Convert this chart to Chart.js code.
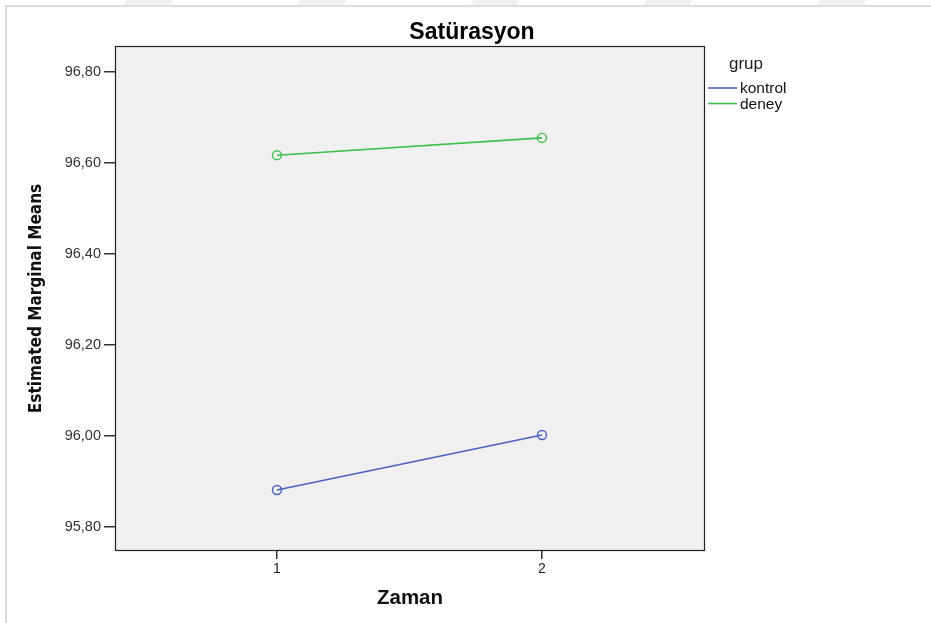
<!DOCTYPE html>
<html lang="tr">
<head>
<meta charset="UTF-8">
<title>Satürasyon</title>
<script src="https://cdn.jsdelivr.net/npm/chart.js"></script>
<style>
  body { margin: 0; background: #fff; }
  #wrap { position: relative; width: 931px; height: 623px; overflow: hidden; }
  #band { position: absolute; left: 0; top: 0; width: 931px; height: 5px;
          background: repeating-linear-gradient(120deg, #fff 0 110px, #f0f0f0 110px 150px); }
  #frame { position: absolute; left: 5px; top: 5px; right: -2px; bottom: -2px;
           border-left: 2px solid #dcdcdc; border-top: 2px solid #dcdcdc; }
  canvas { position: absolute; left: 0; top: 0; }
</style>
</head>
<body>
<div id="wrap">
  <div id="band"></div>
  <div id="frame"></div>
  <canvas id="emmChart" width="931" height="623"></canvas>
</div>
<script>
// Estimated marginal means of saturation by time, per group
const zamanLevels = [1, 2];
const groups = ['kontrol', 'deney'];
const kontrolMeans = [95.881, 96.002];
const deneyMeans = [96.617, 96.655];
const yTickValues = [95.8, 96.0, 96.2, 96.4, 96.6, 96.8];
const xTickValues = [1, 2];

const groupColors = ['#4b61c0', '#3dbf4d'];
const BASE_FONT = '"Liberation Sans", Arial, sans-serif';

function toPoints(means) {
    return zamanLevels.map((z, i) => ({ x: z, y: means[i] }));
}

function makeDataset(label, means, color) {
    return {
        label: label,
        data: toPoints(means),
        borderColor: color,
        backgroundColor: 'rgba(0,0,0,0)',
        borderWidth: 1.6,
        pointRadius: 4.5,
        pointBorderWidth: 1.4,
        pointBackgroundColor: 'rgba(0,0,0,0)',
        pointBorderColor: color,
        tension: 0
    };
}

// grey plot panel with dark frame
const panelPlugin = {
    id: 'panel',
    beforeDraw(chart) {
        const a = chart.chartArea, ctx = chart.ctx;
        ctx.save();
        ctx.fillStyle = '#f0f0f0';
        ctx.fillRect(a.left, a.top, a.right - a.left, a.bottom - a.top);
        ctx.restore();
    },
    afterDraw(chart) {
        const a = chart.chartArea, ctx = chart.ctx;
        ctx.save();
        ctx.strokeStyle = '#222';
        ctx.lineWidth = 1.2;
        ctx.strokeRect(a.left + 0.5, a.top + 0.5, a.right - a.left - 1, a.bottom - a.top - 1);
        ctx.restore();
    }
};

// title above the panel and the "grup" legend on the right
const textPlugin = {
    id: 'texts',
    afterDraw(chart) {
        const ctx = chart.ctx;
        ctx.save();
        ctx.fillStyle = '#000';
        ctx.font = 'bold 23px ' + BASE_FONT;
        ctx.textAlign = 'center';
        ctx.textBaseline = 'middle';
        ctx.fillText('Satürasyon', 472, 33);

        ctx.textAlign = 'left';
        ctx.fillStyle = '#222';
        ctx.font = '17px ' + BASE_FONT;
        ctx.fillText('grup', 729, 64);
        ctx.font = '15.5px ' + BASE_FONT;
        chart.data.datasets.forEach((ds, i) => {
            const y = 88 + i * 15.5;
            ctx.strokeStyle = ds.borderColor;
            ctx.lineWidth = 1.6;
            ctx.beginPath();
            ctx.moveTo(708, y);
            ctx.lineTo(737, y);
            ctx.stroke();
            ctx.fillStyle = '#111';
            ctx.fillText(ds.label, 740, y + 1);
        });
        ctx.restore();
    }
};

const ctx = document.getElementById('emmChart').getContext('2d');
new Chart(ctx, {
    type: 'line',
    data: {
        datasets: [
            makeDataset(groups[0], kontrolMeans, groupColors[0]),
            makeDataset(groups[1], deneyMeans, groupColors[1])
        ]
    },
    options: {
        responsive: false,
        animation: false,
        devicePixelRatio: 1,
        layout: { padding: { left: 24, right: 226, top: 46, bottom: 12 } },
        plugins: {
            legend: { display: false },
            title: { display: false },
            tooltip: { enabled: false }
        },
        scales: {
            x: {
                type: 'linear',
                min: 0.389,
                max: 2.615,
                afterFit(scale) { scale.height = 60; },
                afterBuildTicks(scale) { scale.ticks = xTickValues.map(v => ({ value: v })); },
                border: { display: false },
                grid: { drawOnChartArea: false, drawTicks: true, tickLength: 8, color: '#333', lineWidth: 1.5 },
                ticks: {
                    autoSkip: false,
                    padding: 2,
                    color: '#222',
                    font: { family: BASE_FONT, size: 14 },
                    callback: v => String(v)
                },
                title: {
                    display: true,
                    text: 'Zaman',
                    color: '#111',
                    padding: { top: 0, bottom: 0 },
                    font: { family: BASE_FONT, size: 20.5, weight: 'bold' }
                }
            },
            y: {
                type: 'linear',
                min: 95.747,
                max: 96.857,
                afterFit(scale) { scale.width = 91; },
                afterBuildTicks(scale) { scale.ticks = yTickValues.map(v => ({ value: v })); },
                border: { display: false },
                grid: { drawOnChartArea: false, drawTicks: true, tickLength: 11, color: '#333', lineWidth: 1.5 },
                ticks: {
                    autoSkip: false,
                    padding: 3,
                    color: '#333',
                    font: { family: BASE_FONT, size: 14.5 },
                    callback: v => v.toFixed(2).replace('.', ',')
                },
                title: {
                    display: true,
                    text: 'Estimated Marginal Means',
                    color: '#111',
                    padding: { top: 2, bottom: 0 },
                    font: { family: '"DejaVu Sans Condensed", ' + BASE_FONT, size: 17, weight: 'bold' }
                }
            }
        }
    },
    plugins: [panelPlugin, textPlugin]
});
</script>
</body>
</html>
